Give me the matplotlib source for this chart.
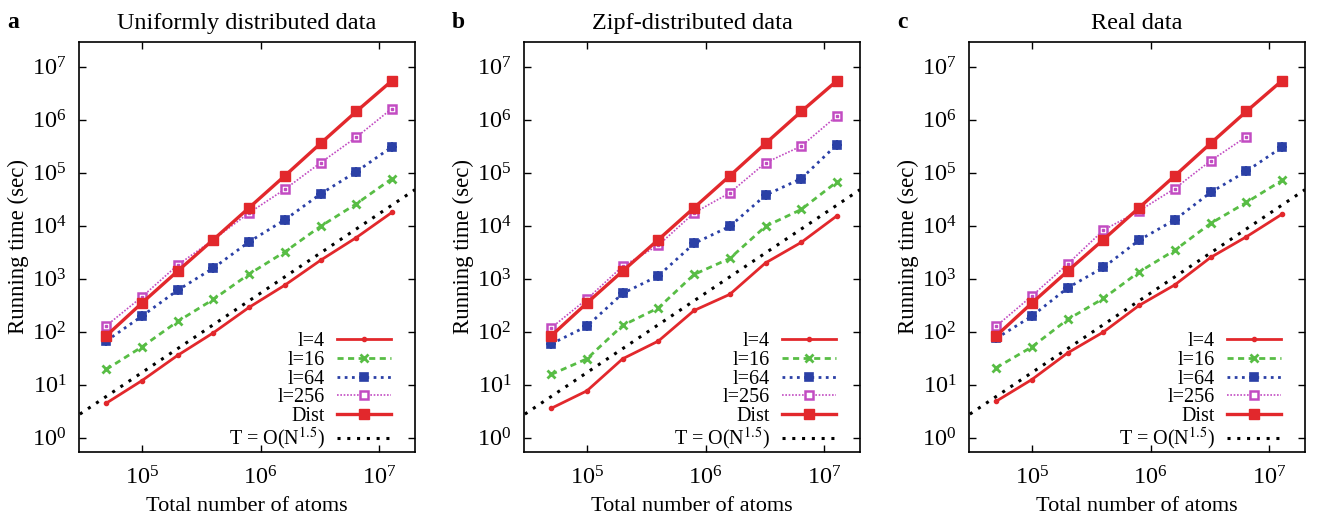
import numpy as np
import matplotlib
matplotlib.use("Agg")
from matplotlib import pyplot as plt
from matplotlib.ticker import LogFormatterMathtext, NullLocator

plt.rcParams['font.family'] = ['Liberation Serif', 'DejaVu Serif']
plt.rcParams['mathtext.fontset'] = 'stix'

#------------------------------------------------------------
# values
n_atoms = [5e4, 1e5, 2e5, 4e5, 8e5, 1.6e6, 3.2e6, 6.4e6, 1.28e7]

titles = ["Uniformly distributed data", "Zipf-distributed data", "Real data"]
letters = ["a", "b", "c"]

x_ticks = [1e5, 1e6, 1e7]
y_ticks = [1e0, 1e1, 1e2, 1e3, 1e4, 1e5, 1e6, 1e7]

# panel a: uniform
uni_l4 = [4.5, 12, 36, 96, 290, 760, 2240, 6000, 18000]
uni_l16 = [19.5, 52, 157, 410, 1230, 3230, 9800, 26000, 78000]
uni_l64 = [67, 198, 610, 1600, 5000, 13000, 40000, 105000, 310000]
uni_l256 = [130, 457, 1820, 5500, 17600, 49000, 155000, 470000, 1640000]
uni_dist = [84, 350, 1400, 5500, 22000, 88000, 360000, 1440000, 5500000]

# panel b: zipf
zipf_l4 = [3.6, 7.7, 31, 67, 253, 510, 2000, 4880, 15500]
zipf_l16 = [15.7, 31, 132, 283, 1210, 2430, 9800, 20400, 68000]
zipf_l64 = [59, 128, 530, 1140, 4650, 9800, 38000, 78000, 343000]
zipf_l256 = [119, 415, 1730, 4300, 17600, 42000, 155000, 320000, 1190000]
zipf_dist = [84, 350, 1400, 5500, 22000, 88000, 360000, 1440000, 5500000]

# panel c: real (no l=256 run at the largest size)
real_l4 = [4.9, 12.6, 40, 99, 315, 770, 2530, 6200, 16600]
real_l16 = [21, 52, 171, 427, 1350, 3470, 11100, 27600, 72000]
real_l64 = [75, 198, 675, 1640, 5370, 13000, 42700, 107000, 305000]
real_l256 = [128, 477, 1900, 8300, 19200, 50700, 169000, 480000, np.nan]
real_dist = [84, 350, 1400, 5500, 22000, 88000, 360000, 1440000, 5500000]

# T = O(N^1.5) guide line, end points
ref_n = [3e4, 2e7]
ref_t = [2.8, 4.82e4]

panels = [
    (uni_l4, uni_l16, uni_l64, uni_l256, uni_dist),
    (zipf_l4, zipf_l16, zipf_l64, zipf_l256, zipf_dist),
    (real_l4, real_l16, real_l64, real_l256, real_dist),
]

red = '#e2282c'
green = '#58bd45'
blue = '#2b40a6'
magenta = '#c24cc2'

#------------------------------------------------------------
fig = plt.figure(figsize=(13.17, 5.19), dpi=100)
lefts = [79, 524, 969]

for i, (l4, l16, l64, l256, dist) in enumerate(panels):
    ax = fig.add_axes([lefts[i] / 1317., 67 / 519., 336 / 1317., 410 / 519.])

    ax.plot(ref_n, ref_t, color='k', ls=(0, (1, 2.2)), lw=2.2,
            label=r'T = O(N$^{1.5}$)', zorder=1)
    ax.plot(n_atoms, l4, '-', color=red, lw=2, marker='o', ms=3,
            label='l=4')
    ax.plot(n_atoms, l16, color=green, ls=(0, (2.2, 1.6)), lw=2,
            marker='x', ms=6, mew=2, label='l=16')
    ax.plot(n_atoms, l64, color=blue, ls=(0, (1, 1.6)), lw=2,
            marker='s', ms=5.5, mew=1.2, label='l=64')
    ax.plot(n_atoms, l64, '+', color=blue, ms=7.5, mew=1.6)
    ax.plot(n_atoms, l256, color=magenta, ls=(0, (1, 1)), lw=1.2,
            marker='s', ms=6, mew=1.8, mfc='white', label='l=256')
    ax.plot(n_atoms, l256, 's', color=magenta, ms=1.8)
    ax.plot(n_atoms, dist, '-', color=red, lw=2.4, marker='s', ms=6.5,
            label='Dist')

    ax.set_xscale('log')
    ax.set_yscale('log')
    ax.set_xticks(x_ticks)
    ax.set_yticks(y_ticks)
    ax.set_xlim(2.95e4, 2.0e7)
    ax.set_ylim(0.54, 2.95e7)

    ax.xaxis.set_major_formatter(LogFormatterMathtext())
    ax.yaxis.set_major_formatter(LogFormatterMathtext())
    ax.xaxis.set_minor_locator(NullLocator())
    ax.yaxis.set_minor_locator(NullLocator())
    ax.tick_params(which='both', direction='in', top=True, right=True,
                   length=5, width=1, labelsize=17.5)
    ax.tick_params(axis='x', pad=10)
    ax.tick_params(axis='y', pad=9)
    for sp in ax.spines.values():
        sp.set_linewidth(1.2)

    ax.set_xlabel('Total number of atoms', fontsize=16, va='baseline')
    ax.set_ylabel('Running time (sec)', fontsize=16.5)
    ax.xaxis.set_label_coords(0.5, -0.145)
    ax.yaxis.set_label_coords(-0.148, 0.5)
    ax.set_title(titles[i], fontsize=17.5, pad=9.5)

    handles, labels = ax.get_legend_handles_labels()
    order = [1, 2, 3, 4, 5, 0]
    ax.legend([handles[k] for k in order], [labels[k] for k in order],
              loc='lower right', bbox_to_anchor=(0.93, 0.0),
              frameon=False, markerfirst=False, fontsize=14.5,
              handlelength=2.7, handletextpad=0.6, labelspacing=-0.02,
              borderpad=0, borderaxespad=0, numpoints=1)

    fig.text((lefts[i] - 72) / 1317., 1 - 28 / 519., letters[i],
             fontsize=17, fontweight='bold', ha='left', va='baseline')

fig.savefig('out.png', dpi=100)
